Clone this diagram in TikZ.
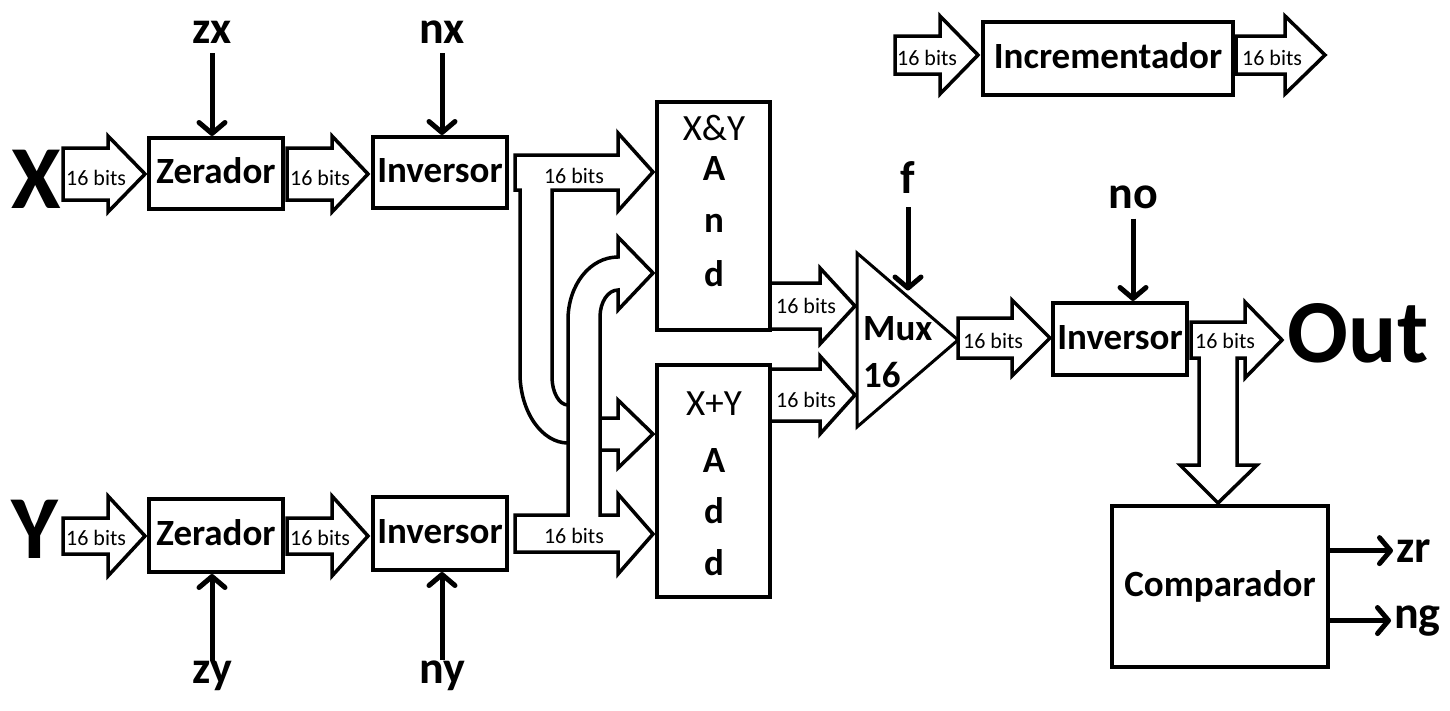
\documentclass[tikz,border=0pt]{standalone}
\usepackage{fontspec}
\setmainfont{Carlito}
\usetikzlibrary{arrows.meta,calc}
\def\busarrow(#1,#2)(#3:#4:#5:#6){\draw[bus] (#1,{#2-#5}) -- (#3,{#2-#5}) -- (#3,{#2-#6}) -- (#4,#2) -- (#3,{#2+#6}) -- (#3,{#2+#5}) -- (#1,{#2+#5}) -- cycle;}
\newcommand\blkfont{\fontsize{37}{40}\selectfont\bfseries}
\newcommand\opfont{\fontsize{37}{40}\selectfont}
\newcommand\bitsfont{\fontsize{22}{24}\selectfont}
\newcommand\sigfont{\fontsize{46}{50}\selectfont\bfseries}
\newcommand\iofont{\fontsize{90}{92}\selectfont\bfseries}
\tikzset{
	blk/.style={draw, line width=4pt, fill=white, text height=20pt, text depth=0pt, font=\blkfont},
	bus/.style={draw, line width=3.5pt, fill=white},
	bits/.style={font=\bitsfont, inner sep=0pt, anchor=base west},
	ctrl/.style={line width=5pt, -{Straight Barb[length=11pt,width=26pt,round]}},
	sig/.style={font=\sigfont, inner sep=0pt, anchor=base},
	io/.style={font=\iofont, inner sep=0pt, anchor=base},
	letter/.style={font=\blkfont, inner sep=0pt, anchor=base},
}

\begin{document}
\begin{tikzpicture}[x=1pt,y=-1pt]
		%%%%% START %%%%%
		\useasboundingbox (0,0) rectangle (1450,710);
		
		% entradas
		\node[io] (X) at (36,208) {X};
		\node[io] (Y) at (35,558) {Y};
		
		\busarrow(63,174)(108:145:26:38);
		\busarrow(287,174)(332:368:26:38);
		\busarrow(63,536)(108:145:18:40);
		\busarrow(287,536)(332:368:18:40);
		\node[bits] (bx1) at (66,185) {16 bits};
		\node[bits] (bx2) at (290,185) {16 bits};
		\node[bits] (by1) at (66,545) {16 bits};
		\node[bits] (by2) at (290,545) {16 bits};
		
		\node[blk, minimum width=134pt, minimum height=71pt] (zerx) at (216,173.5) {Zerador};
		\node[blk, minimum width=134pt, minimum height=71pt] (invx) at (440,172.5) {Inversor};
		\node[blk, minimum width=134pt, minimum height=73pt] (zery) at (216,535.5) {Zerador};
		\node[blk, minimum width=134pt, minimum height=73pt] (invy) at (440,533.5) {Inversor};
		
		% sinais de controle
		\node[sig] (zx) at (212,43) {zx};
		\node[sig] (nx) at (442,43) {nx};
		\node[sig] (zy) at (212,683) {zy};
		\node[sig] (ny) at (442,683) {ny};
		\draw[ctrl] ([yshift=-10pt]zx.south) -- (zx.south |- zerx.north);
		\draw[ctrl] ([yshift=-10pt]nx.south) -- (nx.south |- invx.north);
		\draw[ctrl] (zy.north) -- (zy.north |- zery.south);
		\draw[ctrl] (ny.north) -- (ny.north |- invy.south);
		
		% barramentos cruzados
		\draw[bus] (515,155) -- (618,155) -- (618,133) -- (653,172) -- (618,211) -- (618,190) -- (552,190) -- (552,377) .. controls (552,392) and (559,405) .. (568,405) -- (600,418) -- (618,418) -- (618,400) -- (653,434) -- (618,468) -- (618,450) -- (600,450) -- (568,443) .. controls (542,443) and (520,412) .. (520,373) -- (520,190) -- (515,190) -- cycle;
		\draw[bus] (515,515) -- (568,515) -- (568,320) .. controls (568,285) and (590,257) .. (618,257) -- (618,237) -- (653,273) -- (618,310) -- (618,290) .. controls (608,290) and (600,302) .. (600,317) -- (600,515) -- (618,515) -- (618,494) -- (653,534) -- (618,574) -- (618,552) -- (515,552) -- cycle;
		\node[bits, anchor=base] (bbx) at (574,183) {16 bits};
		\node[bits, anchor=base] (bby) at (574,543) {16 bits};
		
		% And / Add
		\node[blk, minimum width=113pt, minimum height=228pt] (andb) at (713.5,216) {};
		\node[blk, minimum width=113pt, minimum height=232pt] (addb) at (713.5,481) {};
		\node[font=\opfont, inner sep=0pt, anchor=base] (andop) at (714,140) {X\&Y};
		\node[letter] (and1) at (714,180) {A};
		\node[letter] (and2) at (714,232) {n};
		\node[letter] (and3) at (714,286) {d};
		\node[font=\opfont, inner sep=0pt, anchor=base] (addop) at (714,415) {X+Y};
		\node[letter] (add1) at (714,472) {A};
		\node[letter] (add2) at (714,523) {d};
		\node[letter] (add3) at (714,575) {d};
		
		% Mux
		\busarrow(770,306)(820:855:23:38);
		\busarrow(770,395)(820:855:26:39);
		\node[bits] (band) at (776,313) {16 bits};
		\node[bits] (badd) at (776,407) {16 bits};
		\draw[line width=3pt, fill=white] (857,253) coordinate (muxtl) -- (958,340) coordinate (muxtip) -- (857,427) coordinate (muxbl) -- cycle;
		\coordinate (muxf) at ($(muxtl)!0.5!(muxtip)$);
		\node[letter, anchor=base west] (mux1) at (863,340) {Mux};
		\node[letter, anchor=base west] (mux2) at (863,387) {16};
		\node[sig] (f) at (908,193) {f};
		\draw[ctrl] ([yshift=-14pt]f.south) -- ([yshift=6pt]f.south |- muxf);
		
		\busarrow(958,338)(1012:1050:20:38);
		\node[bits] (bmux) at (963,348) {16 bits};
		\node[blk, minimum width=134pt, minimum height=72pt] (invo) at (1120,339) {Inversor};
		\node[sig] (no) at (1133,208) {no};
		\draw[ctrl] ([yshift=-10pt]no.south) -- (no.south |- invo.north);
		
		% saida
		\draw[bus] (1191,322) -- (1245,322) -- (1245,302) -- (1282,340) -- (1245,378) -- (1245,358) -- (1237,358) -- (1237,465) -- (1257,465) -- (1218,503) -- (1180,465) -- (1199,465) -- (1199,358) -- (1191,358) -- cycle;
		\node[bits] (bout) at (1195,348) {16 bits};
		\node[io] (Out) at (1358,362) {Out};
		
		\node[blk, minimum width=216pt, minimum height=161pt] (cmp) at (1220,586.5) {Comparador};
		\node[sig, anchor=base west] (zr) at (1396,562) {zr};
		\node[sig, anchor=base west] (ng) at (1394,628) {ng};
		\draw[ctrl] (zr.west -| cmp.east) -- ([xshift=-3pt]zr.west);
		\draw[ctrl] (ng.west -| cmp.east) -- ([xshift=-3pt]ng.west);
		
		% incrementador
		\busarrow(895,55)(940:978:19:39);
		\busarrow(1236,55)(1285:1325:19:39);
		\node[bits] (binc1) at (897,65) {16 bits};
		\node[bits] (binc2) at (1242,65) {16 bits};
		\node[blk, minimum width=250pt, minimum height=73pt] (inc) at (1108,58.5) {Incrementador};
		
		%%%%% END %%%%%
	\end{tikzpicture}
\end{document}
